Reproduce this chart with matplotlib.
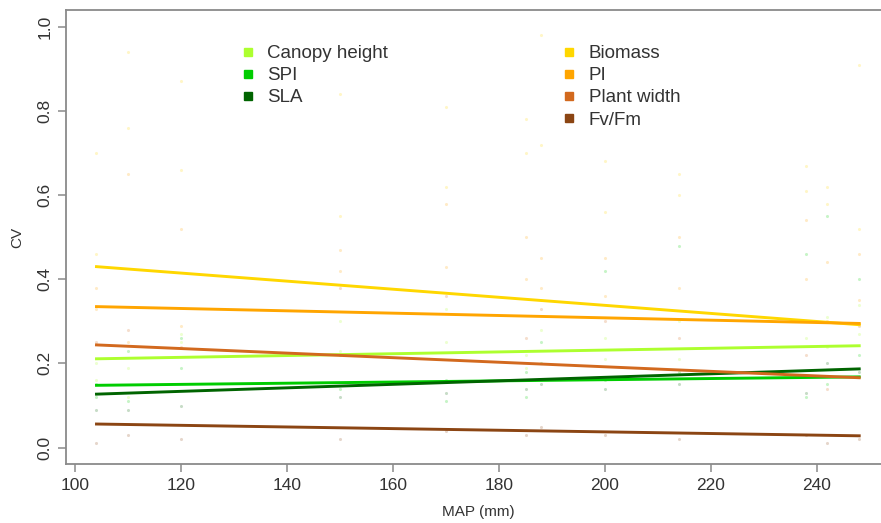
import numpy as np
import matplotlib.pyplot as plt

plt.rcParams['font.family'] = ['Liberation Sans', 'DejaVu Sans']

traits = ['Canopy height', 'SPI', 'SLA', 'Biomass', 'PI', 'Plant width', 'Fv/Fm']
colors = ['#ADFF2F', '#00CD00', '#006400', '#FFD700', '#FFA500', '#D2691E', '#8B4513']

# fitted line end points (MAP 104 -> 248)
map_range = [104, 248]
cv_start = [0.211, 0.148, 0.127, 0.43, 0.335, 0.244, 0.056]
cv_end = [0.242, 0.168, 0.187, 0.292, 0.295, 0.166, 0.028]

# raw site values (faint points)
sites = [104, 110, 120, 150, 170, 185, 188, 200, 214, 238, 242, 248]
pts_canopy = [0.20, 0.19, 0.27, 0.30, 0.25, 0.22, 0.28, 0.26, 0.21, 0.30, 0.24, 0.27]
pts_canopy2 = [0.16, 0.12, 0.25, 0.23, 0.33, 0.19, 0.35, 0.21, 0.30, 0.26, 0.31, 0.34]
pts_spi = [0.12, 0.23, 0.19, 0.14, 0.16, 0.12, 0.20, 0.16, 0.18, 0.12, 0.15, 0.22]
pts_spi2 = [0.15, 0.11, 0.26, 0.22, 0.11, 0.18, 0.25, 0.42, 0.48, 0.46, 0.55, 0.40]
pts_sla = [0.09, 0.09, 0.10, 0.12, 0.13, 0.14, 0.15, 0.14, 0.15, 0.13, 0.20, 0.18]
pts_biomass = [0.46, 0.94, 0.87, 0.55, 0.62, 0.70, 0.98, 0.56, 0.60, 0.67, 0.62, 0.91]
pts_biomass2 = [0.70, 0.76, 0.66, 0.84, 0.81, 0.78, 0.72, 0.68, 0.65, 0.61, 0.58, 0.52]
pts_pi = [0.33, 0.65, 0.29, 0.47, 0.43, 0.40, 0.45, 0.36, 0.38, 0.40, 0.30, 0.46]
pts_pi2 = [0.38, 0.25, 0.52, 0.42, 0.58, 0.50, 0.38, 0.45, 0.50, 0.54, 0.44, 0.35]
pts_width = [0.25, 0.28, 0.24, 0.38, 0.36, 0.26, 0.33, 0.30, 0.26, 0.22, 0.14, 0.29]
pts_fvfm = [0.01, 0.03, 0.02, 0.02, 0.04, 0.03, 0.05, 0.03, 0.02, 0.03, 0.01, 0.02]

fig = plt.figure(figsize=(8.81, 5.23), dpi=100)
ax = fig.add_axes([0.0749, 0.112, 0.935, 0.869])

all_pts = [(pts_canopy, 0), (pts_canopy2, 0), (pts_spi, 1), (pts_spi2, 1), (pts_sla, 2),
           (pts_biomass, 3), (pts_biomass2, 3), (pts_pi, 4), (pts_pi2, 4),
           (pts_width, 5), (pts_fvfm, 6)]
for ys, i in all_pts:
    ax.scatter(sites, ys, s=5, color=colors[i], alpha=0.22, lw=0)

for i, t in enumerate(traits):
    ax.plot(map_range, [cv_start[i], cv_end[i]], color=colors[i], lw=2.1)

ax.set_xlim(98.24, 253.76)
ax.set_ylim(-0.04, 1.04)
ax.set_xticks(np.arange(100, 241, 20))
ax.set_yticks(np.arange(0, 1.01, 0.2))
ax.set_yticklabels(['%.1f' % v for v in np.arange(0, 1.01, 0.2)], rotation=90, va='center')
for s in ax.spines.values():
    s.set_color('#8a8a8a')
    s.set_linewidth(1.3)
ax.tick_params(colors='#8a8a8a', labelcolor='#333333', labelsize=12.5, length=6, width=1.1)
ax.set_xlabel('MAP (mm)', fontsize=11, color='#333333', labelpad=9)
ax.set_ylabel('CV', fontsize=11, color='#333333', labelpad=10)

# legend in two columns
h = [plt.Line2D([], [], marker='s', ls='', color=c, markersize=5.5) for c in colors]
kw = dict(frameon=False, fontsize=13.5, handletextpad=0.6, labelspacing=0.27,
          handlelength=0.9, labelcolor='#333333', loc='upper left')
leg1 = ax.legend(h[:3], traits[:3], bbox_to_anchor=(0.19, 0.96), **kw)
ax.add_artist(leg1)
ax.legend(h[3:], traits[3:], bbox_to_anchor=(0.58, 0.96), **kw)

fig.savefig('out.png', dpi=100)
